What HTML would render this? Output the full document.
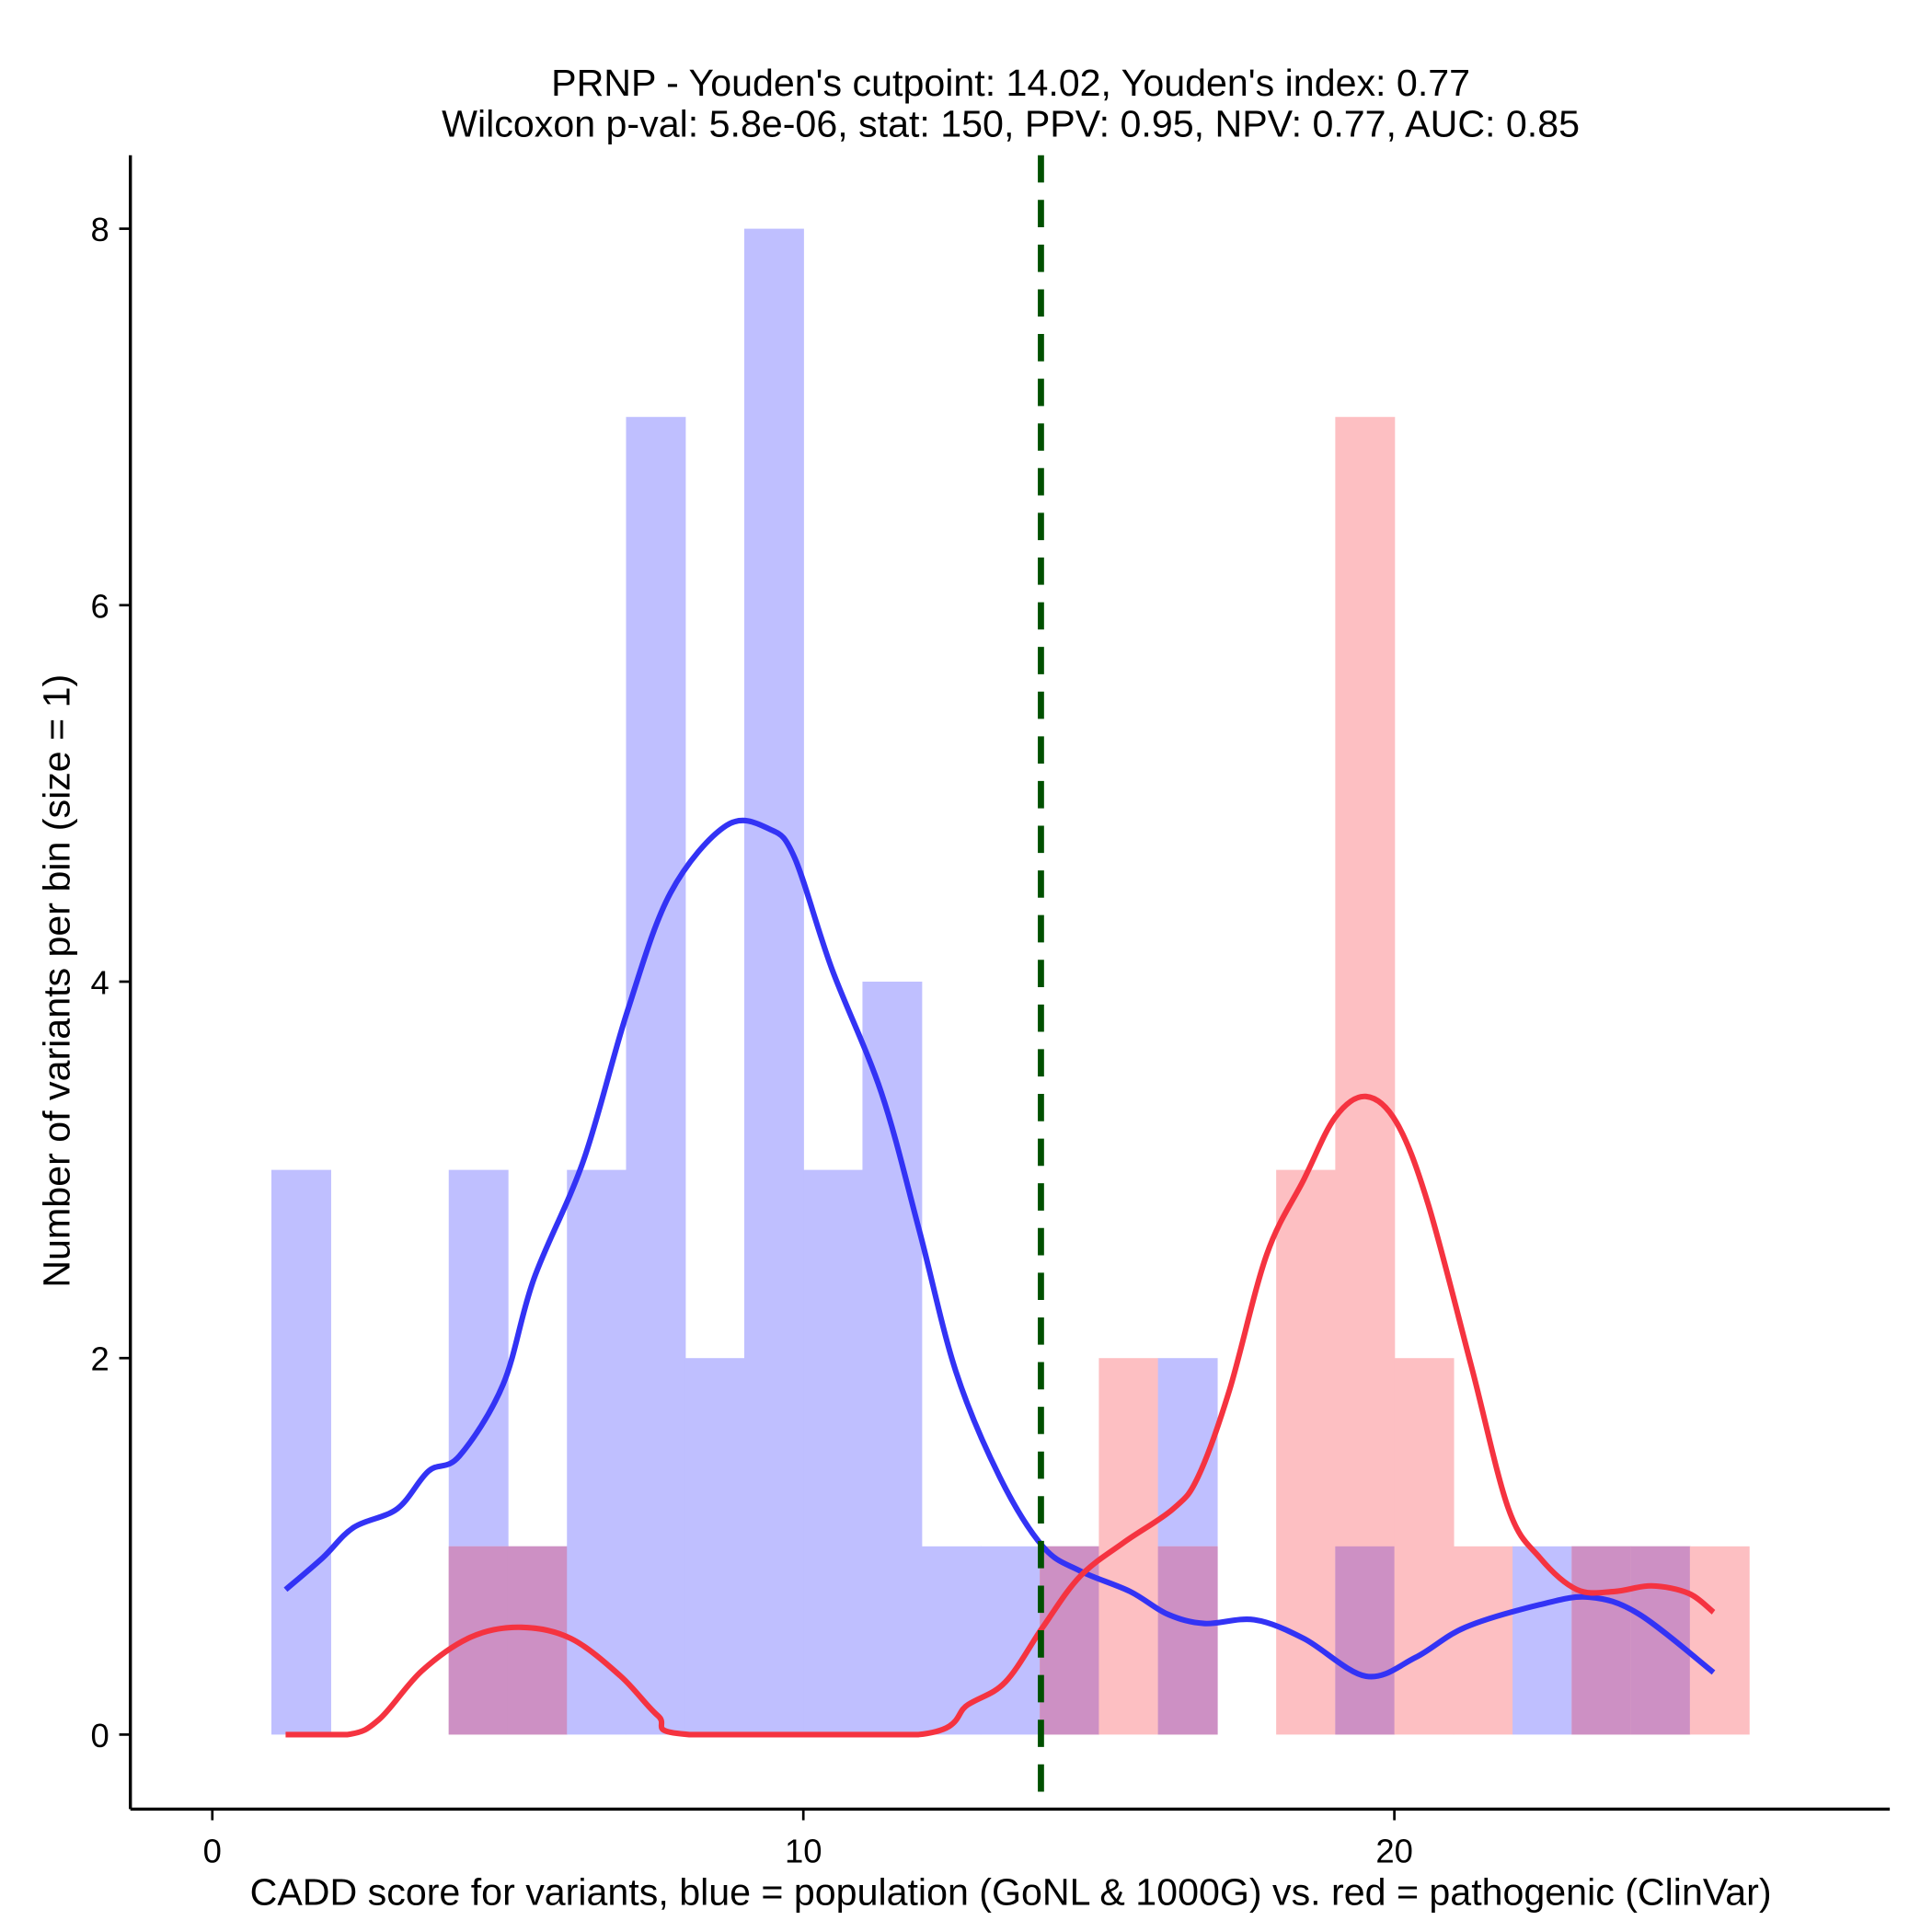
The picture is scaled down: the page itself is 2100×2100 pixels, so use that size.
<!DOCTYPE html>
<html><head><meta charset="utf-8"><style>
html,body{margin:0;padding:0;background:#fff}
svg{display:block}
text{font-family:"Liberation Sans",Arial,sans-serif;fill:#000}
</style></head><body>
<svg id="chart" width="2100" height="2100" viewBox="0 0 1556 1556" xmlns="http://www.w3.org/2000/svg">
<g>
<text x="814" y="77" font-size="30.5" text-anchor="middle">PRNP - Youden's cutpoint: 14.02, Youden's index: 0.77</text>
<text x="814" y="110" font-size="30.5" text-anchor="middle">Wilcoxon p-val: 5.8e-06, stat: 150, PPV: 0.95, NPV: 0.77, AUC: 0.85</text>
</g>
<g id="bars"></g>
<g id="curves"></g>
<g id="axes"></g>
<text x="814" y="1534" font-size="30.5" text-anchor="middle">CADD score for variants, blue = population (GoNL &amp; 1000G) vs. red = pathogenic (ClinVar)</text>
<text transform="translate(56,790) rotate(-90)" font-size="30.5" text-anchor="middle">Number of variants per bin (size = 1)</text>
</svg>
<script>
const binStarts = [1,2,3,4,5,6,7,8,9,10,11,12,13,14,15,16,17,18,19,20,21,22,23,24,25];
const blueCounts = [3,0,0,3,1,3,7,2,8,3,4,1,1,1,0,2,0,0,1,0,0,1,1,1,0];
const redCounts  = [0,0,0,1,1,0,0,0,0,0,0,0,0,1,2,1,0,3,7,2,1,0,1,1,1];
const blueDensX = [1.24,1.87,2.39,3.13,3.66,4.18,4.92,5.44,6.28,7.02,7.75,8.70,9.43,9.85,10.48,11.32,11.96,12.58,13.32,14.05,14.68,15.53,16.16,16.79,17.63,18.47,19.52,20.36,21.2,22.46,23.3,24.14,25.4];
const blueDensY = [0.77,0.94,1.10,1.20,1.40,1.48,1.86,2.42,3.05,3.84,4.47,4.83,4.81,4.66,4.07,3.41,2.68,1.93,1.37,1.0,0.87,0.76,0.64,0.59,0.61,0.51,0.31,0.41,0.57,0.69,0.73,0.64,0.33];
const redDensX = [1.24,2.29,2.82,3.55,4.39,5.23,6.07,6.91,7.54,8.07,11.95,12.79,13.42,14.05,14.68,15.42,16.26,16.68,17.21,17.84,18.47,19.0,19.52,20.04,20.57,21.3,21.93,22.46,23.09,23.72,24.35,24.98,25.4];
const redDensY = [0,0,0.08,0.34,0.52,0.57,0.51,0.31,0.10,0,0,0.16,0.28,0.57,0.84,1.02,1.20,1.37,1.83,2.55,2.95,3.28,3.39,3.25,2.82,1.96,1.20,0.94,0.77,0.76,0.79,0.75,0.65];
const xTicks = [0,10,20];
const yTicks = [0,2,4,6,8];
const cutpoint = 14.02;

const NS = "http://www.w3.org/2000/svg";
const sx = v => 171 + v * 47.6;
const sy = v => 1397 - v * 151.6;
function mk(tag, attrs, parent){const e=document.createElementNS(NS,tag);for(const k in attrs)e.setAttribute(k,attrs[k]);parent.appendChild(e);return e;}

const bars = document.getElementById('bars');
binStarts.forEach((b,i)=>{
  const w = sx(b+1)-sx(b)+0.5;
  const bl = blueCounts[i], rd = redCounts[i], mn = Math.min(bl,rd);
  if(bl>0){const r=mk('rect',{x:sx(b),y:sy(bl),width:w,height:sy(0)-sy(bl),fill:'#bfbfff'},bars);
    
    }
  if(rd>0){const r=mk('rect',{x:sx(b),y:sy(rd),width:w,height:sy(0)-sy(rd),fill:'#fdbfc2'},bars);
    
    }
  if(mn>0){const r=mk('rect',{x:sx(b),y:sy(mn),width:w,height:sy(0)-sy(mn),fill:'#cd90c4'},bars);
    
    }
});

const curves = document.getElementById('curves');
function path(xs,ys){
  const p = xs.map((x,i)=>[sx(x),sy(ys[i])]);
  const base = sy(0);
  let d = 'M'+p[0][0]+','+p[0][1];
  for(let i=0;i<p.length-1;i++){
    const p0=p[Math.max(i-1,0)],p1=p[i],p2=p[i+1],p3=p[Math.min(i+2,p.length-1)];
    let c1=[p1[0]+(p2[0]-p0[0])/6,p1[1]+(p2[1]-p0[1])/6];
    let c2=[p2[0]-(p3[0]-p1[0])/6,p2[1]-(p3[1]-p1[1])/6];
    if(p1[1]>=base-0.01||p2[1]>=base-0.01){c1[1]=Math.min(c1[1],base);c2[1]=Math.min(c2[1],base);}
    if(p1[1]>=base-0.01&&p2[1]>=base-0.01){c1[1]=base;c2[1]=base;}
    d+=' C'+c1+' '+c2+' '+p2;
  }
  return d;
}
const bc = mk('path',{d:path(blueDensX,blueDensY),fill:'none',stroke:'#3333f5',"stroke-width":4.5},curves);


const rc = mk('path',{d:path(redDensX,redDensY),fill:'none',stroke:'#f53340',"stroke-width":4.5},curves);


const cl = mk('line',{x1:sx(cutpoint),x2:sx(cutpoint),y1:125,y2:1457,stroke:'#005000',"stroke-width":5,"stroke-dasharray":"22,14"},curves);



const axes = document.getElementById('axes');
const xa = mk('line',{x1:105,x2:1522,y1:1457,y2:1457,stroke:'#000',"stroke-width":2.5},axes);


const ya = mk('line',{x1:105,x2:105,y1:125,y2:1457,stroke:'#000',"stroke-width":2.5},axes);


xTicks.forEach(t=>{
  const l=mk('line',{x1:sx(t),x2:sx(t),y1:1457,y2:1466,stroke:'#000',"stroke-width":2},axes);
  
  
  const tx=mk('text',{x:sx(t),y:1500,"font-size":27,"text-anchor":"middle"},axes);
  tx.textContent=t;
  
  
});
yTicks.forEach(t=>{
  const l=mk('line',{x1:96,x2:105,y1:sy(t),y2:sy(t),stroke:'#000',"stroke-width":2},axes);
  
  
  const tx=mk('text',{x:88,y:sy(t)+10,"font-size":27,"text-anchor":"end"},axes);
  tx.textContent=t;
  
  
});
</script>
</body></html>
